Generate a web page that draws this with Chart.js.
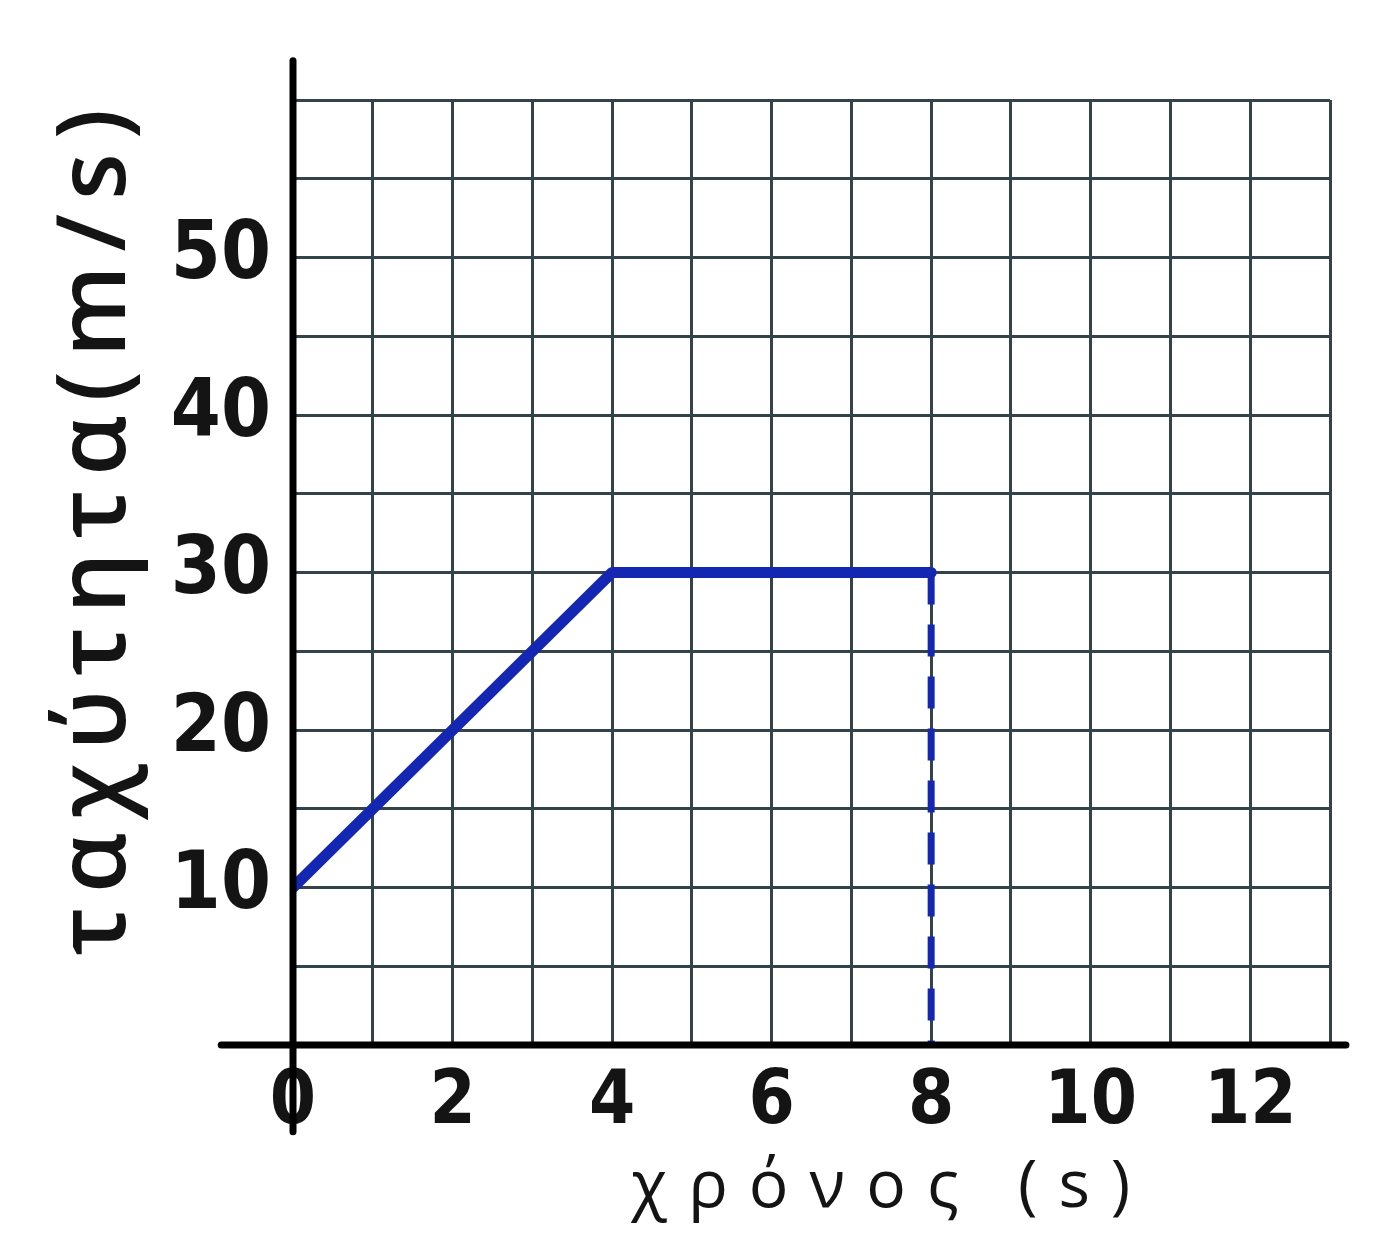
<!DOCTYPE html>
<html>
<head>
<meta charset="utf-8">
<script src="https://cdn.jsdelivr.net/npm/chart.js@4"></script>
<style>
  body { margin: 0; background: #fff; }
  #wrap { width: 1395px; height: 1238px; }
</style>
</head>
<body>
<div id="wrap"><canvas id="velocity"></canvas></div>
<script>
// speed-time graph
const timeValues = [0, 4, 8];
const speedValues = [10, 30, 30];
const stopTime = [8, 8];
const stopSpeed = [30, 0];
const xTickLabels = ['0', '2', '4', '6', '8', '10', '12'];
const yTickLabels = ['10', '20', '30', '40', '50'];
const xTitle = 'χρόνος (s)';
const yTitle = 'ταχύτητα(m/s)';

const ink = '#141414';
const gridInk = '#34434a';
const pen = '#1427b3';
const digits = "'DejaVu Sans Condensed', 'Liberation Sans Narrow', sans-serif";

// thick hand drawn axes that run past the grid + the two axis titles
const paperAxes = {
  id: 'paperAxes',
  afterDatasetsDraw(chart) {
    const { ctx, scales: { x, y } } = chart;
    const x0 = x.getPixelForValue(0);
    const y0 = y.getPixelForValue(0);
    ctx.save();
    ctx.strokeStyle = '#000';
    ctx.lineCap = 'round';
    ctx.lineWidth = 7;
    ctx.beginPath();
    ctx.moveTo(x0, y.getPixelForValue(62.5));
    ctx.lineTo(x0, y.getPixelForValue(-5.5));
    ctx.stroke();
    ctx.beginPath();
    ctx.moveTo(x.getPixelForValue(-0.9), y0);
    ctx.lineTo(x.getPixelForValue(13.2), y0);
    ctx.stroke();

    ctx.fillStyle = ink;
    ctx.textAlign = 'center';
    ctx.textBaseline = 'middle';
    ctx.letterSpacing = '21px';
    ctx.font = "400 66px 'Open Sans', sans-serif";
    ctx.fillText(xTitle, x.getPixelForValue(7.5), 1188);

    ctx.translate(98, y.getPixelForValue(33));
    ctx.rotate(-Math.PI / 2);
    ctx.letterSpacing = '14px';
    ctx.font = "600 96px 'Open Sans', sans-serif";
    ctx.fillText(yTitle, 0, 0);
    ctx.restore();
  }
};

new Chart(document.getElementById('velocity'), {
  type: 'scatter',
  data: {
    datasets: [
      {
        data: timeValues.map((t, i) => ({ x: t, y: speedValues[i] })),
        showLine: true,
        borderColor: pen,
        borderWidth: 11,
        pointRadius: 0,
        borderJoinStyle: 'round',
        borderCapStyle: 'round'
      },
      {
        data: stopTime.map((t, i) => ({ x: t, y: stopSpeed[i] })),
        showLine: true,
        borderColor: pen,
        borderWidth: 7,
        borderDash: [32, 20],
        pointRadius: 0
      }
    ]
  },
  options: {
    responsive: true,
    maintainAspectRatio: false,
    animation: false,
    layout: {
      padding: { top: 100, right: 65, left: 0, bottom: 0 }
    },
    plugins: {
      legend: { display: false },
      tooltip: { enabled: false }
    },
    scales: {
      x: {
        type: 'linear',
        min: 0,
        max: 13,
        afterFit: scale => { scale.height = 193; },
        ticks: {
          stepSize: 1,
          autoSkip: false,
          maxRotation: 0,
          padding: 14,
          color: ink,
          font: { family: digits, size: 74, weight: 'bold' },
          callback: v => xTickLabels.includes(String(v)) ? String(v) : ''
        },
        grid: { color: gridInk, lineWidth: 3, drawTicks: false },
        border: { display: false }
      },
      y: {
        min: 0,
        max: 60,
        afterFit: scale => { scale.width = 293; },
        ticks: {
          stepSize: 5,
          autoSkip: false,
          padding: 22,
          color: ink,
          font: { family: digits, size: 80, weight: 'bold' },
          callback: v => yTickLabels.includes(String(v)) ? String(v) : ''
        },
        grid: { color: gridInk, lineWidth: 3, drawTicks: false },
        border: { display: false }
      }
    }
  },
  plugins: [paperAxes]
});
</script>
</body>
</html>
